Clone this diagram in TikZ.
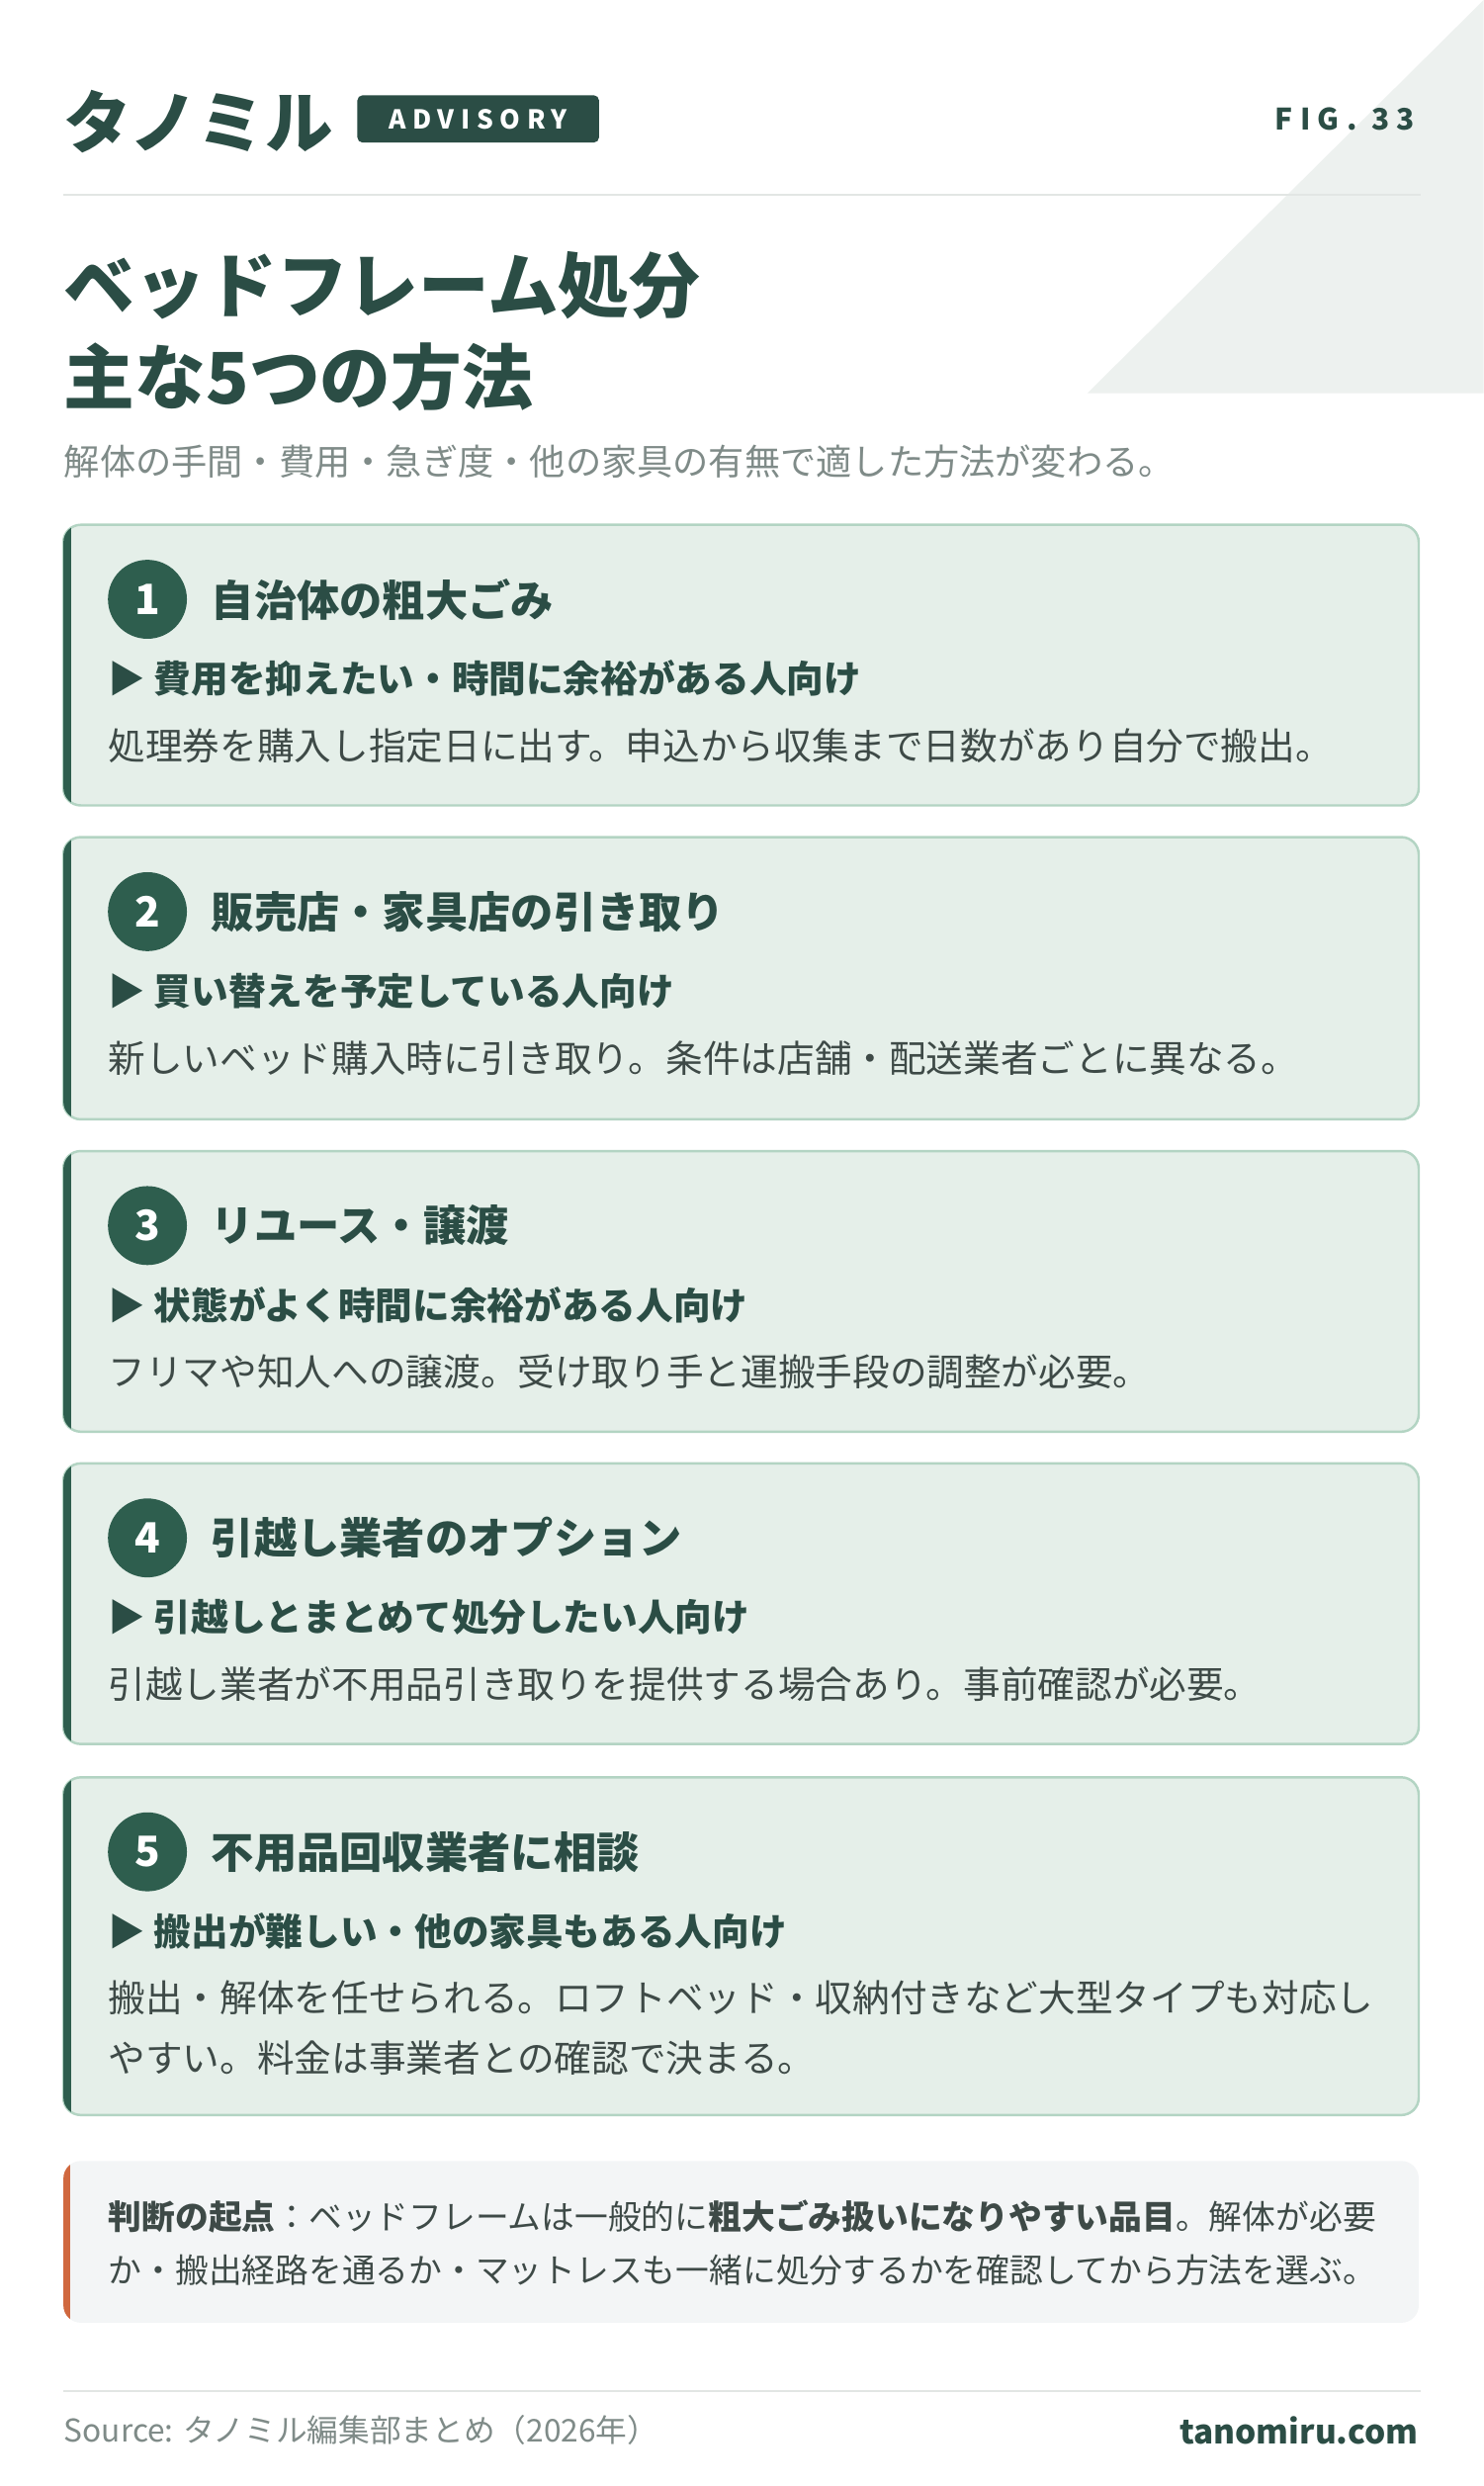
\documentclass[tikz,border=0pt]{standalone}
\usepackage{fontspec}
\setmainfont{Noto Sans CJK JP}
\usetikzlibrary{positioning}
\definecolor{ink}{HTML}{2B4D45}
\definecolor{dot}{HTML}{2E5E4E}
\definecolor{cardfill}{HTML}{E5EFE9}
\definecolor{cardline}{HTML}{B3D4C3}
\definecolor{body}{HTML}{3E4A47}
\definecolor{muted}{HTML}{7F8B88}
\definecolor{rule}{HTML}{E2E6E4}
\definecolor{corner}{HTML}{EDF1EF}
\definecolor{notefill}{HTML}{F3F5F6}
\definecolor{accent}{HTML}{D0683F}
\tikzset{
  cardbox/.style={fill=cardfill,draw=cardline,line width=0.7pt,rounded corners=5pt},
  numdot/.style={circle,fill=dot,text=white,minimum size=22.7pt,inner sep=0pt,font=\bfseries\fontsize{12}{12}\selectfont},
  cardtitle/.style={anchor=west,inner sep=0pt,text=ink,font=\bfseries\fontsize{12.3}{14}\selectfont},
  cardsub/.style={anchor=west,inner sep=0pt,text=ink,font=\bfseries\fontsize{10.7}{13}\selectfont},
  carddesc/.style={anchor=north west,inner sep=0pt,text=body,align=left,font=\fontsize{10.7}{17.3}\selectfont},
}
\begin{document}
\begin{tikzpicture}[x=0.016026cm,y=-0.016026cm]
  \useasboundingbox (0,0) rectangle (936,1568);
  \fill[white] (0,0) rectangle (936,1568);
  \fill[corner] (936,0) -- (936,248) -- (686,248) -- cycle;

  % header
  \node[anchor=west,inner sep=0pt,text=ink,font=\bfseries\fontsize{19.5}{22}\selectfont] (brand) at (40,77) {タノミル};
  \node[anchor=west,fill=ink,text=white,rounded corners=1.5pt,minimum width=69.5pt,minimum height=13.6pt,inner sep=0pt,
        font=\bfseries\fontsize{7.5}{8}\selectfont] (badge) at (225,75) {\addfontfeatures{LetterSpace=25}ADVISORY};
  \node[anchor=east,inner sep=0pt,text=ink,font=\bfseries\fontsize{8.5}{9}\selectfont] (fig) at (893,75) {\addfontfeatures{LetterSpace=25}FIG. 33};
  \draw[rule,line width=0.5pt] (40,123) -- (896,123);

  % title
  \node[anchor=west,inner sep=0pt,text=ink,font=\bfseries\fontsize{20.4}{22}\selectfont] (title1) at (40,180) {ベッドフレーム処分};
  \node[anchor=west,inner sep=0pt,text=ink,font=\bfseries\fontsize{20.4}{22}\selectfont] (title2) at (40,238) {主な5つの方法};
  \node[anchor=west,inner sep=0pt,text=muted,font=\fontsize{10.3}{12}\selectfont] (lead) at (40,291) {解体の手間・費用・急ぎ度・他の家具の有無で適した方法が変わる。};

  % cards
  \foreach \n/\top/\bot/\ttl/\sub/\desc in {
    1/331/508/自治体の粗大ごみ/費用を抑えたい・時間に余裕がある人向け/{処理券を購入し指定日に出す。申込から収集まで日数があり自分で搬出。},
    2/528/706/販売店・家具店の引き取り/買い替えを予定している人向け/{新しいベッド購入時に引き取り。条件は店舗・配送業者ごとに異なる。},
    3/726/903/リユース・譲渡/状態がよく時間に余裕がある人向け/{フリマや知人への譲渡。受け取り手と運搬手段の調整が必要。},
    4/923/1100/引越し業者のオプション/引越しとまとめて処分したい人向け/{引越し業者が不用品引き取りを提供する場合あり。事前確認が必要。},
    5/1121/1334/不用品回収業者に相談/搬出が難しい・他の家具もある人向け/{搬出・解体を任せられる。ロフトベッド・収納付きなど大型タイプも対応し\\やすい。料金は事業者との確認で決まる。}} {
    \draw[cardbox] (40,\top) rectangle (895,\bot);
    \begin{scope}
      \clip[rounded corners=5pt] (40,\top) rectangle (895,\bot);
      \fill[dot] (40,\top) rectangle (45,\bot);
    \end{scope}
    \node[numdot] (num\n) at (93,\top+47) {\n};
    \node[cardtitle] (ttl\n) at (133,\top+47) {\ttl};
    \node[cardsub] (sub\n) at (68,\top+97) {▶ \sub};
    \node[carddesc] (desc\n) at (68,\top+128) {\desc};
  }

  % note
  \draw[fill=notefill,draw=none,rounded corners=5pt] (40,1363) rectangle (895,1465);
  \begin{scope}
    \clip[rounded corners=5pt] (40,1363) rectangle (895,1465);
    \fill[accent] (40,1363) rectangle (44,1465);
  \end{scope}
  \node[anchor=north west,inner sep=0pt,text=body,align=left,font=\fontsize{9.6}{15.5}\selectfont] (note) at (68,1387)
    {\textbf{判断の起点}：ベッドフレームは一般的に\textbf{粗大ごみ扱いになりやすい品目}。解体が必要\\か・搬出経路を通るか・マットレスも一緒に処分するかを確認してから方法を選ぶ。};

  % footer
  \draw[rule,line width=0.5pt] (40,1508) -- (896,1508);
  \node[anchor=west,inner sep=0pt,text=muted,font=\fontsize{9}{10}\selectfont] (source) at (40,1533) {Source: タノミル編集部まとめ（2026年）};
  \node[anchor=east,inner sep=0pt,text=ink,font=\bfseries\fontsize{9.5}{10}\selectfont] (site) at (895,1533) {tanomiru.com};
\end{tikzpicture}
\end{document}
